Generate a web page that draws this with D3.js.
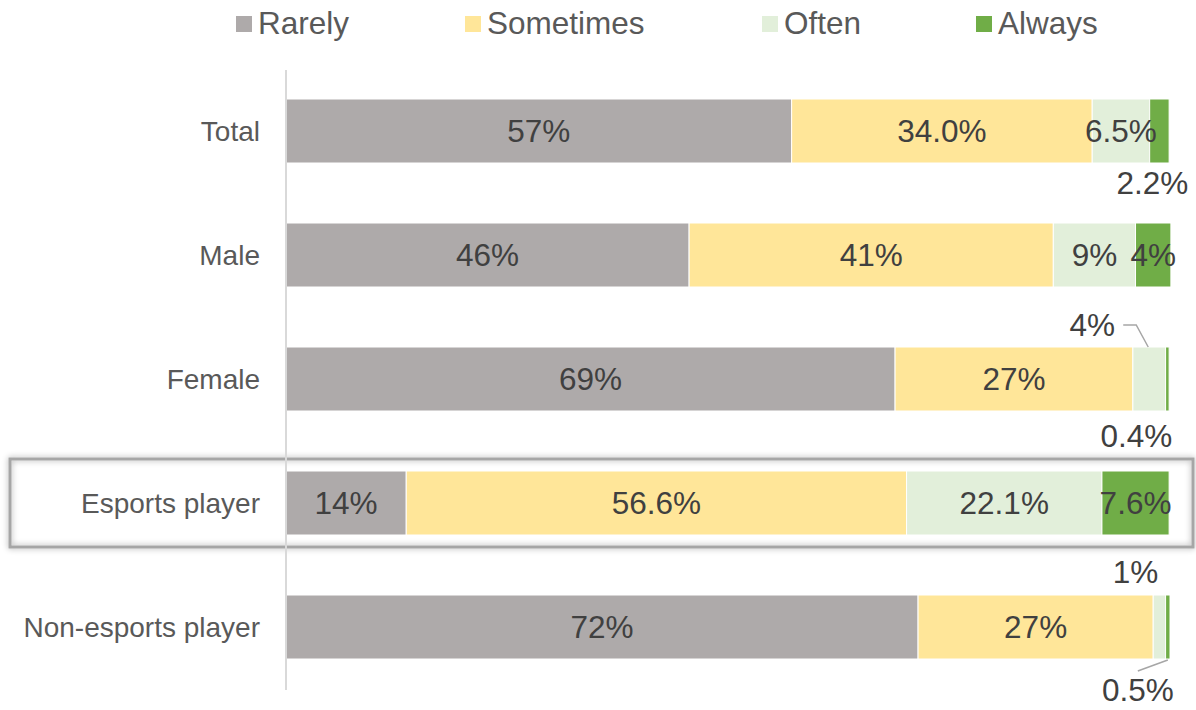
<!DOCTYPE html>
<html>
<head>
<meta charset="utf-8">
<script src="https://cdn.jsdelivr.net/npm/d3@7"></script>
<style>
  html, body { margin: 0; padding: 0; background: #fff; }
  svg { display: block; font-family: "Liberation Sans", Arial, sans-serif; }
</style>
</head>
<body>
<svg id="chart" width="1196" height="710"></svg>
<script>
// ---- data ----
const categories = ["Total", "Male", "Female", "Esports player", "Non-esports player"];
const seriesNames = ["Rarely", "Sometimes", "Often", "Always"];
const rarely    = [57.2, 45.6, 68.9, 13.6, 71.5];
const sometimes = [34.0, 41.2, 26.9, 56.6, 26.6];
const often     = [6.5, 9.3, 3.7, 22.1, 1.4];
const always    = [2.2, 4.0, 0.4, 7.6, 0.5];
const rarelyLabels    = ["57%", "46%", "69%", "14%", "72%"];
const sometimesLabels = ["34.0%", "41%", "27%", "56.6%", "27%"];
const oftenLabels     = ["6.5%", "9%", "4%", "22.1%", "1%"];
const alwaysLabels    = ["2.2%", "4%", "0.4%", "7.6%", "0.5%"];
const highlighted = "Esports player";

// ---- styles / layout ----
const colors = ["#aeaaaa", "#ffe699", "#e2efda", "#70ad47"];
const legendX = [236, 465, 762, 976];
// outside-label placements: [category index, series index] -> offset from segment centre
const outside = {
  "0-3": { dx: -7, anchor: "bottom", dy: 31 },
  "2-2": { dx: -57, anchor: "top", dy: -11, leader: [[-26, -22], [-13, -22], [-1, 0]] },
  "2-3": { dx: -31, anchor: "bottom", dy: 36 },
  "4-2": { dx: -24, anchor: "top", dy: -12 },
  "4-3": { dx: -30, anchor: "bottom", dy: 42, leader: [[-30, 12], [0, 1]] }
};

const values = [rarely, sometimes, often, always];
const labels = [rarelyLabels, sometimesLabels, oftenLabels, alwaysLabels];

const svg = d3.select("#chart");
const x = d3.scaleLinear().domain([0, 100]).range([286, 1170]);
const y = d3.scaleBand().domain(categories).range([68, 690])
  .paddingInner(60 / 124).paddingOuter(0.25);

// shadow filter
const defs = svg.append("defs");
const f = defs.append("filter").attr("id", "shadow")
  .attr("x", "-5%").attr("y", "-30%").attr("width", "110%").attr("height", "160%");
f.append("feGaussianBlur").attr("in", "SourceAlpha").attr("stdDeviation", 3).attr("result", "b");
f.append("feOffset").attr("in", "b").attr("dx", 0).attr("dy", 0).attr("result", "o");
f.append("feComponentTransfer").attr("in", "o").attr("result", "s")
  .append("feFuncA").attr("type", "linear").attr("slope", 0.35);
const fm = f.append("feMerge");
fm.append("feMergeNode").attr("in", "s");
fm.append("feMergeNode").attr("in", "SourceGraphic");

// highlight box
svg.append("rect")
  .attr("x", 10).attr("y", y(highlighted) - 12)
  .attr("width", 1183).attr("height", y.bandwidth() + 24)
  .attr("fill", "none").attr("stroke", "#a6a6a6").attr("stroke-width", 3)
  .attr("filter", "url(#shadow)");

// stacked data
const stacked = categories.map((c, i) => {
  let acc = 0;
  return values.map((arr, s) => {
    const d = { cat: c, ci: i, si: s, x0: acc, x1: acc + arr[i], label: labels[s][i] };
    acc += arr[i];
    return d;
  });
}).flat();

// bars
svg.append("g").selectAll("rect").data(stacked).join("rect")
  .attr("x", d => x(d.x0))
  .attr("y", d => y(d.cat))
  .attr("width", d => x(d.x1) - x(d.x0))
  .attr("height", y.bandwidth())
  .attr("fill", d => colors[d.si])
  .attr("stroke", "#fff").attr("stroke-width", 1);

// axis line
const yAxis = d3.axisLeft(y).tickSize(0).tickPadding(26);
const ag = svg.append("g").attr("transform", `translate(${x(0)},0)`).call(yAxis);
ag.select(".domain").attr("stroke", "#d9d9d9").attr("stroke-width", 2)
  .attr("d", `M0,70V690`);
ag.selectAll(".tick text")
  .attr("fill", "#595959").attr("font-size", 28)
  .attr("font-family", "'Liberation Sans', Arial, sans-serif")
  .attr("dy", "0.35em");

// data labels
const lg = svg.append("g");
stacked.forEach(d => {
  const cx = (x(d.x0) + x(d.x1)) / 2;
  const key = d.ci + "-" + d.si;
  const o = outside[key];
  let tx = cx, ty = y(d.cat) + y.bandwidth() / 2, dy = "0.35em";
  if (o) {
    tx = cx + o.dx;
    ty = (o.anchor === "top" ? y(d.cat) : y(d.cat) + y.bandwidth()) + o.dy;
    dy = "0";
    if (o.leader) {
      const base = o.anchor === "top" ? y(d.cat) : y(d.cat) + y.bandwidth();
      lg.append("path")
        .attr("d", d3.line()(o.leader.map(p => [cx + p[0], base + p[1]])))
        .attr("fill", "none").attr("stroke", "#a6a6a6").attr("stroke-width", 1.5);
    }
  }
  lg.append("text")
    .attr("x", tx).attr("y", ty).attr("dy", dy)
    .attr("text-anchor", "middle")
    .attr("font-size", 31.5).attr("fill", "#404040")
    .text(d.label);
});

// legend
const leg = svg.append("g");
seriesNames.forEach((n, i) => {
  leg.append("rect").attr("x", legendX[i]).attr("y", 16)
    .attr("width", 16).attr("height", 16).attr("fill", colors[i]);
  leg.append("text").attr("x", legendX[i] + 22).attr("y", 34)
    .attr("font-size", 31.5).attr("fill", "#595959").text(n);
});
</script>
</body>
</html>
